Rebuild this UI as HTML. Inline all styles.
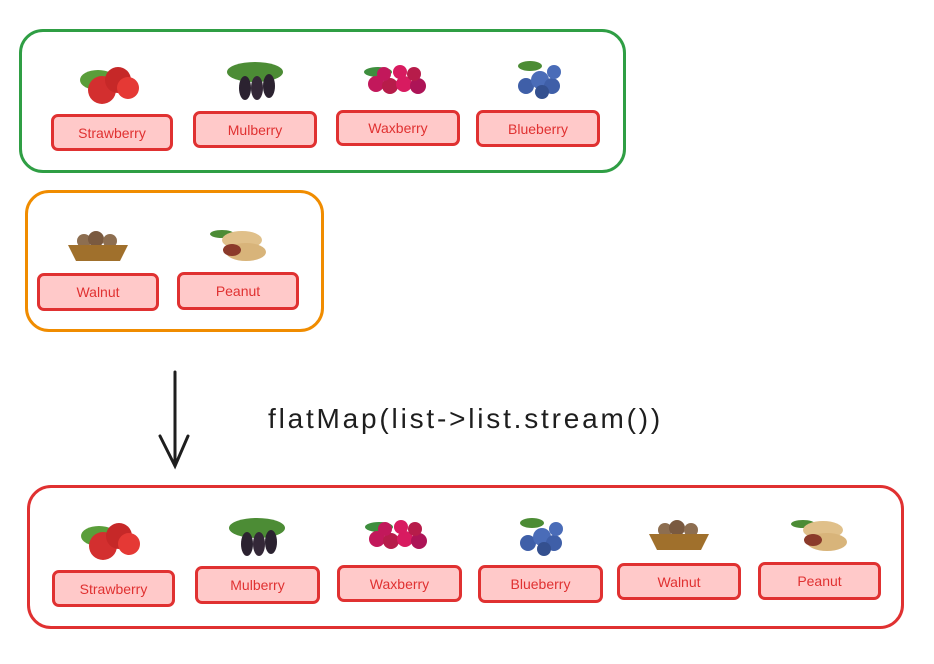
<!DOCTYPE html>
<html><head><meta charset="utf-8"><style>
body{margin:0;width:934px;height:664px;background:#fff;position:relative;overflow:hidden;font-family:"Liberation Sans",sans-serif}
.box{position:absolute;border-style:solid;border-width:3px;border-radius:24px;box-sizing:border-box}
.lb{position:absolute;background:#ffc9c9;border:3px solid #e03131;border-radius:7px;box-sizing:border-box;color:#e03131;font-size:14px;display:flex;align-items:center;justify-content:center}
</style></head><body>
<div class="box" style="left:19px;top:29px;width:607px;height:144px;border-color:#2f9e44"></div>
<div class="box" style="left:25px;top:190px;width:299px;height:142px;border-color:#f08c00"></div>
<div class="box" style="left:27px;top:485px;width:877px;height:144px;border-color:#e03131"></div>

<svg width="934" height="664" style="position:absolute;left:0;top:0">
<defs>
<g id="straw"><ellipse cx="-14" cy="-4" rx="18" ry="10" fill="#5a9e3a"/><circle cx="-10" cy="6" r="14" fill="#d32f2f"/><circle cx="6" cy="-4" r="13" fill="#c62828"/><circle cx="16" cy="4" r="11" fill="#e53935"/></g>
<g id="mul"><ellipse cx="0" cy="-10" rx="28" ry="10" fill="#4c8c35"/><ellipse cx="-10" cy="6" rx="6" ry="12" fill="#2b2230"/><ellipse cx="2" cy="6" rx="6" ry="12" fill="#342838"/><ellipse cx="14" cy="4" rx="6" ry="12" fill="#2b2230"/></g>
<g id="wax"><ellipse cx="-20" cy="-8" rx="14" ry="5" fill="#3e8e3e"/><circle cx="-22" cy="4" r="8" fill="#c2185b"/><circle cx="-8" cy="6" r="8" fill="#b71c4a"/><circle cx="6" cy="4" r="8" fill="#d81b60"/><circle cx="20" cy="6" r="8" fill="#ad1457"/><circle cx="-14" cy="-6" r="7" fill="#c2185b"/><circle cx="2" cy="-8" r="7" fill="#d81b60"/><circle cx="16" cy="-6" r="7" fill="#b71c4a"/></g>
<g id="blue"><ellipse cx="-8" cy="-14" rx="12" ry="5" fill="#4c8c35"/><circle cx="-12" cy="6" r="8" fill="#3f5fa8"/><circle cx="2" cy="0" r="9" fill="#4a6cb8"/><circle cx="14" cy="6" r="8" fill="#3f5fa8"/><circle cx="4" cy="12" r="7" fill="#34508f"/><circle cx="16" cy="-8" r="7" fill="#4a6cb8"/></g>
<g id="wal"><circle cx="-14" cy="-4" r="7" fill="#8d6e50"/><circle cx="-2" cy="-6" r="8" fill="#7a5a40"/><circle cx="12" cy="-4" r="7" fill="#8d6e50"/><path d="M-30 0 L30 0 L22 16 L-22 16Z" fill="#a0702c"/></g>
<g id="pea"><ellipse cx="-16" cy="-12" rx="12" ry="4" fill="#4c8c35"/><ellipse cx="4" cy="-6" rx="20" ry="9" fill="#e0c08a"/><ellipse cx="8" cy="6" rx="20" ry="9" fill="#d8b47a"/><ellipse cx="-6" cy="4" rx="9" ry="6" fill="#8b3a2a"/></g>
</defs>
<use href="#straw" x="112" y="84"/><use href="#mul" x="255" y="82"/><use href="#wax" x="398" y="80"/><use href="#blue" x="538" y="80"/>
<use href="#wal" x="98" y="245"/><use href="#pea" x="238" y="246"/>
<use href="#straw" x="113" y="540"/><use href="#mul" x="257" y="538"/><use href="#wax" x="399" y="535"/><use href="#blue" x="540" y="537"/><use href="#wal" x="679" y="534"/><use href="#pea" x="819" y="536"/>
<path d="M175 372 L175 466 M160 436 L175 466 L188 436" stroke="#1e1e1e" stroke-width="3" fill="none" stroke-linecap="round"/>
<text x="268" y="428" font-family="Liberation Sans, sans-serif" font-size="28" letter-spacing="2.8" fill="#1e1e1e">flatMap(list-&gt;list.stream())</text>
</svg>

<div class="lb" style="left:51px;top:114px;width:122px;height:37px">Strawberry</div>
<div class="lb" style="left:193px;top:111px;width:124px;height:37px">Mulberry</div>
<div class="lb" style="left:336px;top:110px;width:124px;height:36px">Waxberry</div>
<div class="lb" style="left:476px;top:110px;width:124px;height:37px">Blueberry</div>
<div class="lb" style="left:37px;top:273px;width:122px;height:38px">Walnut</div>
<div class="lb" style="left:177px;top:272px;width:122px;height:38px">Peanut</div>
<div class="lb" style="left:52px;top:570px;width:123px;height:37px">Strawberry</div>
<div class="lb" style="left:195px;top:566px;width:125px;height:38px">Mulberry</div>
<div class="lb" style="left:337px;top:565px;width:125px;height:37px">Waxberry</div>
<div class="lb" style="left:478px;top:565px;width:125px;height:38px">Blueberry</div>
<div class="lb" style="left:617px;top:563px;width:124px;height:37px">Walnut</div>
<div class="lb" style="left:758px;top:562px;width:123px;height:38px">Peanut</div>
</body></html>
